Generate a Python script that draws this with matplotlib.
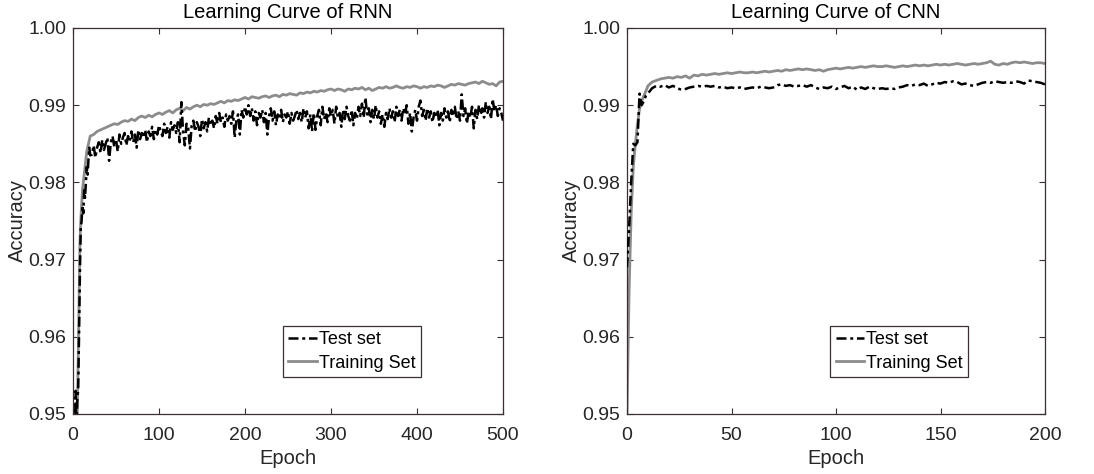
import numpy as np
import matplotlib
matplotlib.use("Agg")
import matplotlib.pyplot as plt

plt.rcParams['font.family'] = ['Liberation Sans', 'DejaVu Sans']

# RNN test: epochs 1..20 every epoch, then every 2 epochs up to 500
RNN_TEST_EPOCHS = list(range(1, 21)) + list(range(22, 501, 2))
RNN_TEST = [
    0.930, 0.945, 0.953, 0.948, 0.952, 0.953, 0.960, 0.968, 0.974, 0.975,
    0.977, 0.976, 0.979, 0.978, 0.980, 0.982, 0.981, 0.983, 0.9845, 0.9835,
    0.9836, 0.9848, 0.9832, 0.9845, 0.9852, 0.9838, 0.9855, 0.9842, 0.9850, 0.9858,
    0.9828, 0.9852, 0.9860, 0.9846, 0.9856, 0.9840, 0.9862, 0.9850, 0.9858, 0.9864,
    0.9848, 0.9860, 0.9854, 0.9866, 0.9852, 0.9862, 0.9845, 0.9868, 0.9856, 0.9864,
    0.9858, 0.9868, 0.9852, 0.9866, 0.9860, 0.9872, 0.9856, 0.9868, 0.9862, 0.9874,
    0.9866, 0.9860, 0.9876, 0.9864, 0.9872, 0.9858, 0.9878, 0.9868, 0.9874, 0.9864,
    0.9878, 0.9852, 0.9904, 0.9866, 0.9848, 0.9876, 0.9870, 0.9844, 0.9874, 0.9880,
    0.9866, 0.9878, 0.9872, 0.9860, 0.9882, 0.9870, 0.9878, 0.9866, 0.9884, 0.9874,
    0.9880, 0.9870, 0.9886, 0.9876, 0.9890, 0.9878, 0.9884, 0.9872, 0.9888, 0.9880,
    0.9886, 0.9876, 0.9892, 0.9858, 0.9882, 0.9888, 0.9862, 0.9894, 0.9884, 0.9898,
    0.9888, 0.9900, 0.9886, 0.9896, 0.9880, 0.9892, 0.9874, 0.9890, 0.9884, 0.9894,
    0.9878, 0.9890, 0.9862, 0.9886, 0.9896, 0.9880, 0.9892, 0.9874, 0.9888, 0.9882,
    0.9894, 0.9878, 0.9888, 0.9884, 0.9892, 0.9876, 0.9890, 0.9880, 0.9886, 0.9894,
    0.9882, 0.9890, 0.9878, 0.9896, 0.9884, 0.9892, 0.9870, 0.9888, 0.9866, 0.9890,
    0.9868, 0.9886, 0.9894, 0.9874, 0.9898, 0.9882, 0.9890, 0.9878, 0.9896, 0.9886,
    0.9894, 0.9876, 0.9898, 0.9884, 0.9890, 0.9872, 0.9894, 0.9882, 0.9898, 0.9886,
    0.9880, 0.9894, 0.9874, 0.9890, 0.9882, 0.9898, 0.9886, 0.9902, 0.9884, 0.9910,
    0.9888, 0.9896, 0.9878, 0.9894, 0.9882, 0.9900, 0.9884, 0.9892, 0.9876, 0.9888,
    0.9872, 0.9890, 0.9882, 0.9896, 0.9884, 0.9892, 0.9878, 0.9898, 0.9886, 0.9894,
    0.9880, 0.9896, 0.9888, 0.9900, 0.9876, 0.9890, 0.9866, 0.9884, 0.9894, 0.9880,
    0.9898, 0.9906, 0.9886, 0.9894, 0.9880, 0.9896, 0.9884, 0.9892, 0.9878, 0.9890,
    0.9884, 0.9894, 0.9874, 0.9890, 0.9880, 0.9896, 0.9884, 0.9892, 0.9878, 0.9894,
    0.9886, 0.9898, 0.9882, 0.9892, 0.9880, 0.9914, 0.9886, 0.9896, 0.9876, 0.9892,
    0.9884, 0.9898, 0.9870, 0.9894, 0.9882, 0.9900, 0.9888, 0.9896, 0.9884, 0.9904,
    0.9890, 0.9898, 0.9882, 0.9908, 0.9892, 0.9900, 0.9886, 0.9896, 0.9890, 0.9880,
]

# RNN training: epochs 1..20 every epoch, then every 4 epochs up to 500
RNN_TRAIN_EPOCHS = list(range(1, 21)) + list(range(24, 501, 4))
RNN_TRAIN = [
    0.920, 0.935, 0.942, 0.947, 0.950, 0.957, 0.965, 0.972, 0.975, 0.977,
    0.979, 0.980, 0.981, 0.982, 0.983, 0.984, 0.9845, 0.985, 0.9855, 0.986,
    0.9862, 0.9866, 0.9868, 0.9870, 0.9872, 0.9874, 0.9876, 0.9875, 0.9878, 0.9880,
    0.9879, 0.9882, 0.9880, 0.9884, 0.9886, 0.9884, 0.9887, 0.9885, 0.9888, 0.9890,
    0.9888, 0.9891, 0.9893, 0.9890, 0.9894, 0.9896, 0.9893, 0.9897, 0.9895, 0.9898,
    0.9900, 0.9898, 0.9901, 0.9900, 0.9902, 0.9901, 0.9903, 0.9905, 0.9903, 0.9906,
    0.9905, 0.9907, 0.9906, 0.9908, 0.9910, 0.9908, 0.9911, 0.9910, 0.9909, 0.9911,
    0.9912, 0.9910, 0.9912, 0.9913, 0.9911, 0.9914, 0.9913, 0.9915, 0.9914, 0.9913,
    0.9916, 0.9915, 0.9917, 0.9916, 0.9918, 0.9917, 0.9919, 0.9918, 0.9920, 0.9921,
    0.9919, 0.9921, 0.9920, 0.9918, 0.9921, 0.9920, 0.9922, 0.9921, 0.9923, 0.9920,
    0.9922, 0.9919, 0.9921, 0.9923, 0.9922, 0.9924, 0.9922, 0.9923, 0.9925, 0.9923,
    0.9922, 0.9924, 0.9923, 0.9925, 0.9924, 0.9922, 0.9924, 0.9923, 0.9925, 0.9924,
    0.9926, 0.9925, 0.9923, 0.9925, 0.9927, 0.9926, 0.9928, 0.9927, 0.9926, 0.9928,
    0.9929, 0.9930, 0.9928, 0.9931, 0.9929, 0.9927, 0.9928, 0.9925, 0.9930, 0.9931,
]

# CNN: epochs 0..9 every epoch, then every 2 epochs up to 200
CNN_EPOCHS = list(range(0, 10)) + list(range(10, 201, 2))

CNN_TEST = [
    0.969, 0.974, 0.980, 0.985, 0.9848, 0.9852, 0.9915, 0.9900, 0.9905, 0.9912,
    0.9915, 0.9922, 0.9925, 0.9924, 0.9926, 0.9923, 0.9925, 0.9922,
    0.9920, 0.9921, 0.9923, 0.9924, 0.9925, 0.9924, 0.9925, 0.9924,
    0.9925, 0.9923, 0.9924, 0.9922, 0.9923, 0.9922, 0.9923, 0.9921,
    0.9922, 0.9923, 0.9922, 0.9924, 0.9923, 0.9922, 0.9923, 0.9926,
    0.9927, 0.9925, 0.9926, 0.9924, 0.9925, 0.9926, 0.9924, 0.9926,
    0.9923, 0.9921, 0.9923, 0.9922, 0.9924, 0.9921, 0.9923, 0.9925,
    0.9922, 0.9924, 0.9920, 0.9923, 0.9921, 0.9924, 0.9922, 0.9921,
    0.9922, 0.9921, 0.9922, 0.9921, 0.9923, 0.9924, 0.9926, 0.9925,
    0.9927, 0.9926, 0.9928, 0.9925, 0.9927, 0.9929, 0.9928, 0.9930,
    0.9929, 0.9931, 0.9930, 0.9927, 0.9928, 0.9926, 0.9925, 0.9927,
    0.9929, 0.9930, 0.9929, 0.9931, 0.9930, 0.9929, 0.9930, 0.9929,
    0.9931, 0.9930, 0.9928, 0.9932, 0.9931, 0.9930, 0.9929, 0.9927,
]

CNN_TRAIN = [
    0.950, 0.966, 0.976, 0.982, 0.985, 0.9875, 0.9895, 0.9905, 0.9912, 0.9918,
    0.9925, 0.9930, 0.9932, 0.9934, 0.9935, 0.9936, 0.9935, 0.9937,
    0.9936, 0.9938, 0.9935, 0.9939, 0.9938, 0.9940, 0.9939, 0.9940,
    0.9941, 0.9940, 0.9941, 0.9942, 0.9941, 0.9942, 0.9943, 0.9942,
    0.9942, 0.9943, 0.9942, 0.9943, 0.9944, 0.9943, 0.9944, 0.9945,
    0.9944, 0.9946, 0.9945, 0.9946, 0.9947, 0.9946, 0.9947, 0.9946,
    0.9945, 0.9946, 0.9944, 0.9946, 0.9947, 0.9948, 0.9947, 0.9948,
    0.9949, 0.9948, 0.9949, 0.9950, 0.9949, 0.9950, 0.9951, 0.9950,
    0.9950, 0.9951, 0.9950, 0.9949, 0.9950, 0.9951, 0.9950, 0.9951,
    0.9952, 0.9951, 0.9952, 0.9951, 0.9952, 0.9953, 0.9952, 0.9953,
    0.9952, 0.9953, 0.9954, 0.9953, 0.9952, 0.9953, 0.9954, 0.9953,
    0.9954, 0.9955, 0.9957, 0.9953, 0.9952, 0.9954, 0.9953, 0.9955,
    0.9956, 0.9955, 0.9956, 0.9955, 0.9954, 0.9955, 0.9955, 0.9954,
]

Y_TICKS = [0.95, 0.96, 0.97, 0.98, 0.99, 1.00]
FRAME = '#3a3030'
TXT = '#262626'
GRAY = '#8c8c8c'


def draw(ax, test_x, test, train_x, train, title, xmax, xstep, legx):
    ax.plot(train_x, train, color=GRAY, linestyle='-', linewidth=2.0, label='Training Set', zorder=2)
    ax.plot(test_x, test, color='k', linestyle=(0, (4, 1.5, 1.2, 1.5)), linewidth=1.8,
            label='Test set', zorder=3)
    ax.set_xlim(0, xmax)
    ax.set_ylim(0.95, 1.00)
    ax.set_xticks(np.arange(0, xmax + 1, xstep))
    ax.set_yticks(Y_TICKS)
    ax.set_yticklabels(['%.2f' % v for v in Y_TICKS])
    ax.tick_params(direction='in', length=4, width=0.8, top=True, right=True,
                   labelsize=14, colors=FRAME, labelcolor=TXT)
    ax.tick_params(axis='x', pad=9)
    ax.tick_params(axis='y', pad=5)
    for sp in ax.spines.values():
        sp.set_color(FRAME)
        sp.set_linewidth(0.9)
    ax.set_title(title, fontsize=14.5, color='k', pad=7)
    ax.set_xlabel('Epoch', fontsize=14.5, color=TXT, labelpad=4)
    ax.set_ylabel('Accuracy', fontsize=14.5, color=TXT, labelpad=1)
    h, l = ax.get_legend_handles_labels()
    leg = ax.legend(h[::-1], l[::-1], loc='upper left', bbox_to_anchor=(legx, 0.228),
                    fontsize=13, handlelength=1.6, handletextpad=0.1,
                    borderpad=0.3, labelspacing=0.35, borderaxespad=0,
                    fancybox=False, framealpha=1, edgecolor=FRAME)
    leg.get_frame().set_linewidth(0.9)


fig = plt.figure(figsize=(10.94, 4.74), dpi=100)
ax1 = fig.add_axes([73 / 1094, 60 / 474, 430 / 1094, 386 / 474])
ax2 = fig.add_axes([627 / 1094, 60 / 474, 418 / 1094, 386 / 474])

draw(ax1, RNN_TEST_EPOCHS, RNN_TEST, RNN_TRAIN_EPOCHS, RNN_TRAIN,
     'Learning Curve of RNN', 500, 100, 0.488)
draw(ax2, CNN_EPOCHS, CNN_TEST, CNN_EPOCHS, CNN_TRAIN,
     'Learning Curve of CNN', 200, 50, 0.486)

fig.savefig('out.png', dpi=100)
